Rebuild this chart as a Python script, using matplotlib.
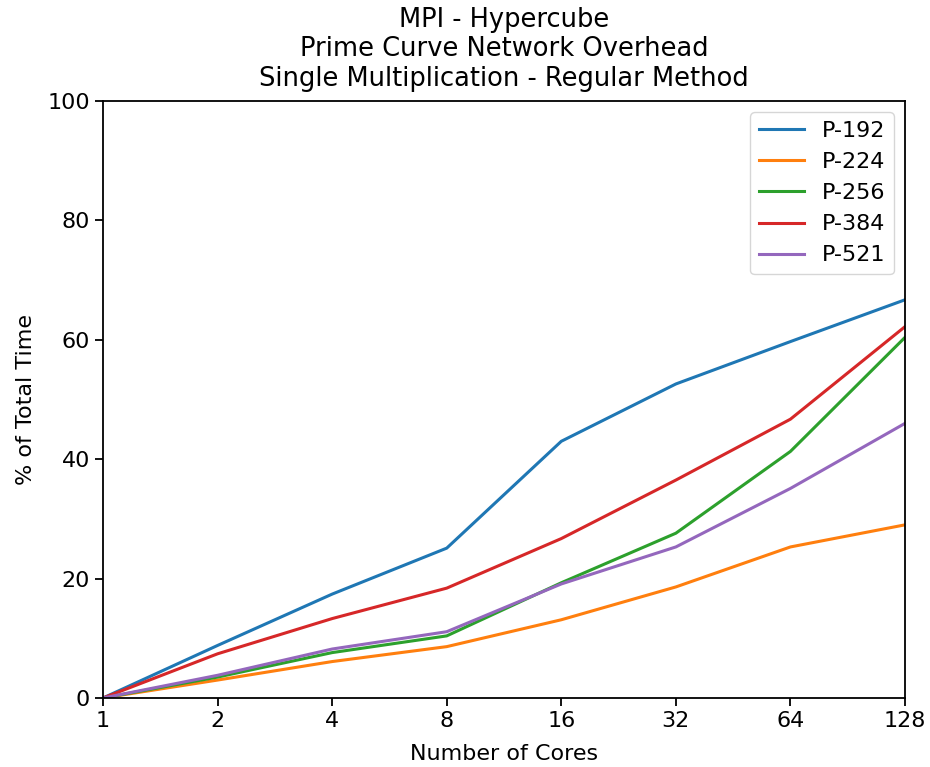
import matplotlib
matplotlib.use("Agg")
import matplotlib.pyplot as plt
from matplotlib.ticker import FixedLocator, FixedFormatter, NullLocator

# ── Data ──────────────────────────────────────────────────────────────────
cores = [1, 2, 4, 8, 16, 32, 64, 128]
core_labels = ["1", "2", "4", "8", "16", "32", "64", "128"]

p192 = [0, 8.8, 17.4, 25.1, 43.0, 52.6, 59.7, 66.7]
p224 = [0, 3.0, 6.1, 8.6, 13.1, 18.6, 25.3, 29.0]
p256 = [0, 3.5, 7.6, 10.4, 19.3, 27.6, 41.3, 60.4]
p384 = [0, 7.4, 13.3, 18.4, 26.7, 36.5, 46.7, 62.2]
p521 = [0, 3.8, 8.2, 11.1, 19.1, 25.3, 35.1, 46.0]

series = [("P-192", p192, "#1f77b4"),
          ("P-224", p224, "#ff7f0e"),
          ("P-256", p256, "#2ca02c"),
          ("P-384", p384, "#d62728"),
          ("P-521", p521, "#9467bd")]

# ── Plot ──────────────────────────────────────────────────────────────────
fig = plt.figure(figsize=(9.3, 7.67), dpi=100)
ax = fig.add_axes([0.1108, 0.0900, 0.8623, 0.7783])

for name, vals, col in series:
    ax.plot(cores, vals, label=name, color=col, linewidth=2.2)

ax.set_xscale("log", base=2)
ax.set_xlim(1, 128)
ax.set_ylim(0, 100)
ax.xaxis.set_major_locator(FixedLocator(cores))
ax.xaxis.set_major_formatter(FixedFormatter(core_labels))
ax.xaxis.set_minor_locator(NullLocator())
ax.set_yticks([0, 20, 40, 60, 80, 100])

ax.tick_params(labelsize=16, length=6, width=1.3)
for s in ax.spines.values():
    s.set_linewidth(1.3)

ax.set_xlabel("Number of Cores", fontsize=16, labelpad=9)
ax.set_ylabel("% of Total Time", fontsize=16, labelpad=8)
ax.set_title("MPI - Hypercube\nPrime Curve Network Overhead\n"
             "Single Multiplication - Regular Method",
             fontsize=18.5, linespacing=1.18, pad=11)
ax.legend(loc="upper right", fontsize=16, handlelength=2.0,
          borderaxespad=0.5)

fig.savefig("out.png", dpi=100)
